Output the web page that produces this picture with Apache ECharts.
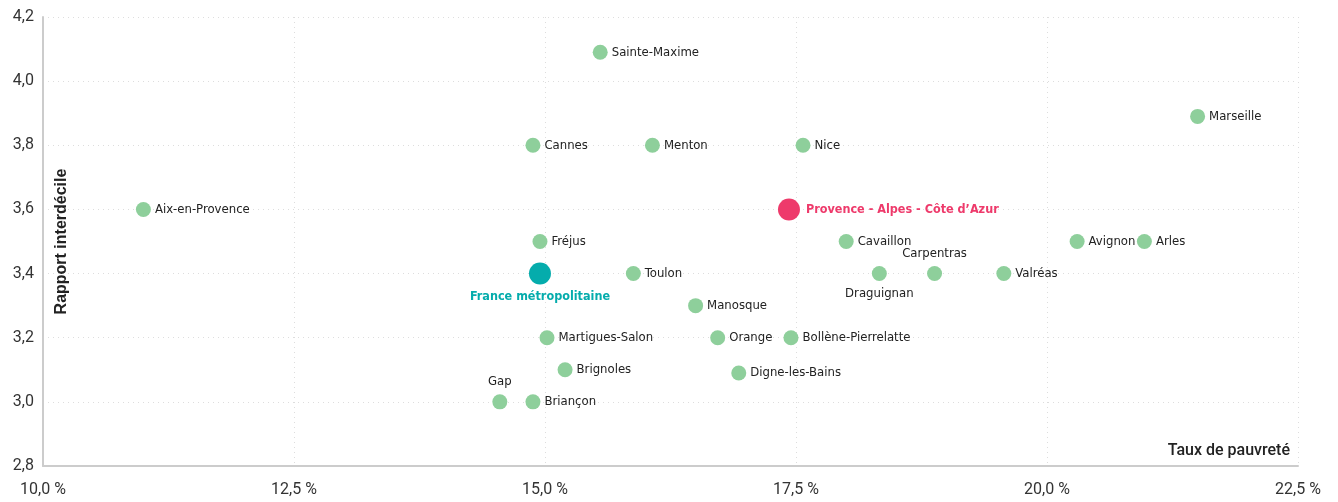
<!DOCTYPE html>
<html>
<head>
<meta charset="utf-8">
<script src="https://cdn.jsdelivr.net/npm/echarts@6/dist/echarts.min.js"></script>
<style>
  html,body{margin:0;padding:0;background:#fff;}
  #chart{width:1338px;height:502px;}
</style>
</head>
<body>
<div id="chart"></div>
<script>
// villes : nom, taux de pauvreté (%), rapport interdécile
var villes = ['Sainte-Maxime','Marseille','Cannes','Menton','Nice','Aix-en-Provence','Fréjus','Cavaillon','Avignon','Arles','Toulon','Draguignan','Carpentras','Valréas','Manosque','Martigues-Salon','Orange','Bollène-Pierrelatte','Brignoles','Digne-les-Bains','Gap','Briançon']
var tauxPauvrete = [15.55,21.5,14.88,16.07,17.57,11.0,14.95,18.0,20.3,20.97,15.88,18.33,18.88,19.57,16.5,15.02,16.72,17.45,15.2,16.93,14.55,14.88]
var rapportInterdecile = [4.09,3.89,3.8,3.8,3.8,3.6,3.5,3.5,3.5,3.5,3.4,3.4,3.4,3.4,3.3,3.2,3.2,3.2,3.1,3.09,3.0,3.0]

// références
var refNoms = ['Provence - Alpes - Côte d\u2019Azur','France métropolitaine']
var refTaux = [17.43,14.95]
var refRapport = [3.6,3.4]

var xTicks = [10,12.5,15,17.5,20,22.5]

// labels pas à droite
var labelPos = {'Gap':'top','Carpentras':'top','Draguignan':'bottom'}

var fmt = function(v){ return v.toFixed(1).replace('.',',') }
var labelFont = '"DejaVu Sans Condensed",sans-serif'

var myChart = echarts.init(document.getElementById('chart'))

var cityData = villes.map((nom,i)=>{
    return {
        name:nom,
        value:[tauxPauvrete[i],rapportInterdecile[i]],
        label:{position:labelPos[nom]||'right', distance: labelPos[nom] ? 6 : 4}
    }
})

var option = {
    animation:false,
    grid:{left:43,right:40,top:17,bottom:36,containLabel:false,outerBoundsMode:'none'},
    xAxis:{
        type:'value',
        min:xTicks[0],
        max:xTicks[xTicks.length-1],
        interval:2.5,
        name:'Taux de pauvreté',
        nameLocation:'end',
        nameGap:0,
        nameMoveOverlap:false,
        nameTextStyle:{
            color:'#222',fontSize:16,fontWeight:500,fontFamily:'Roboto',
            align:'right',verticalAlign:'bottom',padding:[0,8,7,0]
        },
        axisLine:{show:true,lineStyle:{color:'#cccccc',width:2}},
        axisTick:{show:false},
        splitLine:{show:true,lineStyle:{color:'#dddddd',type:[1,4]}},
        axisLabel:{
            color:'#333',fontSize:16,fontFamily:'Roboto',margin:16,
            formatter:v=>fmt(v)+' %'
        }
    },
    yAxis:{
        type:'value',
        min:2.8,
        max:4.2,
        interval:0.2,
        name:'Rapport interdécile',
        nameLocation:'middle',
        nameGap:-27,
        nameMoveOverlap:false,
        nameRotate:90,
        nameTextStyle:{color:'#222',fontSize:16,fontWeight:'bold',fontFamily:'Liberation Sans'},
        axisLine:{show:true,lineStyle:{color:'#cccccc',width:2}},
        axisTick:{show:false},
        splitLine:{show:true,lineStyle:{color:'#dddddd',type:[1,4]}},
        axisLabel:{
            color:'#333',fontSize:16,fontFamily:'Roboto',margin:9,
            formatter:v=>fmt(v)
        }
    },
    series:[{
        type:'scatter',
        symbolSize:15,
        itemStyle:{color:'#8ecf9b',opacity:1},
        label:{
            show:true,
            formatter:'{b}',
            color:'#222',
            fontSize:13,
            fontFamily:labelFont
        },
        data:cityData
    },{
        type:'scatter',
        symbolSize:22,
        itemStyle:{opacity:1},
        data:[{
            name:refNoms[0],
            value:[refTaux[0],refRapport[0]],
            itemStyle:{color:'#ee3a6b',opacity:1},
            label:{position:'right',color:'#ee3a6b',distance:6}
        },{
            name:refNoms[1],
            value:[refTaux[1],refRapport[1]],
            itemStyle:{color:'#05acac',opacity:1},
            label:{position:'bottom',color:'#05acac',distance:6}
        }],
        label:{
            show:true,
            formatter:'{b}',
            fontSize:12.5,
            fontWeight:'bold',
            fontFamily:labelFont
        }
    }]
}
myChart.setOption(option)
</script>
</body>
</html>
